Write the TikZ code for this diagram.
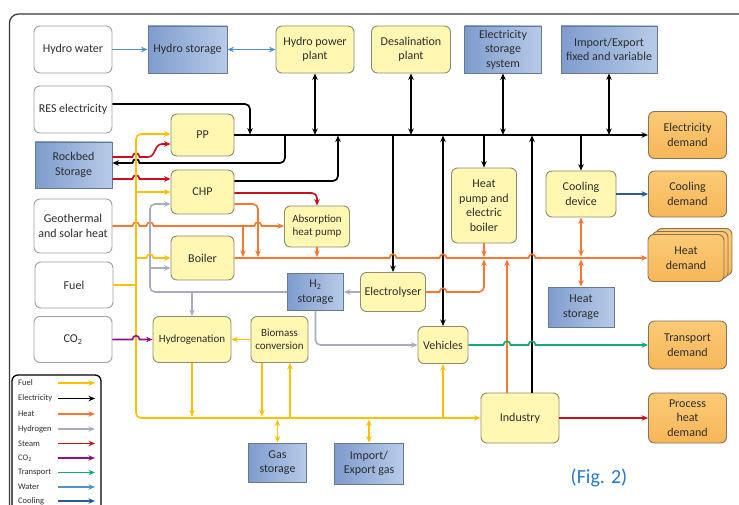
\documentclass[tikz,border=0pt]{standalone}
\usepackage{fontspec}
\setmainfont{Carlito}
\usetikzlibrary{arrows.meta,calc}
\definecolor{yfill}{RGB}{255,247,178}
\definecolor{ybord}{RGB}{140,140,112}
\definecolor{bl1}{RGB}{126,156,205}
\definecolor{bl2}{RGB}{184,203,233}
\definecolor{bbord}{RGB}{105,120,145}
\definecolor{o1}{RGB}{252,202,118}
\definecolor{o2}{RGB}{247,182,88}
\definecolor{obord}{RGB}{135,115,85}
\definecolor{txtc}{RGB}{45,45,45}
\definecolor{fuelc}{RGB}{255,192,0}
\definecolor{heatc}{RGB}{245,120,50}
\definecolor{h2c}{RGB}{168,172,195}
\definecolor{steamc}{RGB}{200,16,30}
\definecolor{co2c}{RGB}{140,20,130}
\definecolor{transc}{RGB}{20,170,120}
\definecolor{waterc}{RGB}{80,145,210}
\definecolor{coolc}{RGB}{40,90,150}
\definecolor{figblue}{RGB}{40,120,200}
\definecolor{framec}{RGB}{60,60,60}
\newcommand\hopR[2]{-- ({#1-3.5},#2) .. controls ({#1-3.5},{#2-5}) and ({#1+3.5},{#2-5}) .. ({#1+3.5},#2)}
\newcommand\hopL[2]{-- ({#1+3.5},#2) .. controls ({#1+3.5},{#2-5}) and ({#1-3.5},{#2-5}) .. ({#1-3.5},#2)}
\tikzset{
 boxbase/.style={draw=ybord, line width=0.9pt, align=center, inner sep=1pt, text=txtc, font=\fontsize{12}{14.5}\selectfont},
 wbox/.style={boxbase, rounded corners=6pt, fill=white, draw=gray!75},
 ybox/.style={boxbase, rounded corners=6pt, fill=yfill},
 bbox/.style={boxbase, draw=bbord, left color=bl1, right color=bl2},
 obox/.style={boxbase, rounded corners=6pt, top color=o1, bottom color=o2, draw=obord},
 smallf/.style={font=\fontsize{11}{13}\selectfont},
 sz/.style 2 args={minimum width=#1pt, minimum height=#2pt},
 lnbase/.style={line width=1.6pt},
 elec/.style={lnbase, draw=black, line width=1.7pt},
 heatl/.style={lnbase, draw=heatc},
 hydl/.style={lnbase, draw=h2c},
 fuell/.style={lnbase, draw=fuelc},
 steaml/.style={lnbase, draw=steamc},
 co2l/.style={lnbase, draw=co2c},
 transl/.style={lnbase, draw=transc},
 waterl/.style={lnbase, draw=waterc},
 cooll/.style={lnbase, draw=coolc},
 legtxt/.style={anchor=west, inner sep=0pt, text=txtc, font=\fontsize{8.5}{10}\selectfont},
}
\begin{document}
\begin{tikzpicture}[x=1pt,y=-1pt,>={Stealth[length=6.5pt,width=5.5pt]}]
\path[use as bounding box, clip] (0,0) rectangle (739,505);
\fill[white] (0,0) rectangle (739,505);
% frame
\draw[framec, line width=1.3pt, rounded corners=9pt] (9.5,14) rectangle (800,560);

% nodes
\node[wbox, sz={78}{47}] (hw) at (73,49.5) {Hydro water};
\node[bbox, sz={79}{47}] (hs) at (187.5,49.5) {Hydro storage};
\node[ybox, sz={78}{47}] (hpp) at (315,49.5) {Hydro power\\plant};
\node[ybox, sz={79}{47}] (des) at (411,49.5) {Desalination\\plant};
\node[bbox, sz={77}{47}] (ess) at (503,49.5) {Electricity\\storage\\system};
\node[bbox, sz={96}{47}] (imp) at (609,49.5) {Import/Export\\fixed and variable};
\node[wbox, sz={78}{47}] (res) at (73,109.5) {RES electricity};
\node[ybox, sz={63}{42}] (pp) at (202.5,135) {PP};
\node[bbox, sz={77}{46}] (rb) at (73.5,165) {Rockbed\\Storage};
\node[ybox, sz={63}{44}] (chp) at (202.5,192) {CHP};
\node[wbox, sz={78}{54}] (geo) at (73,226) {Geothermal\\and solar heat};
\node[ybox, smallf, sz={65}{41}] (ahp) at (317,226.5) {Absorption\\heat pump};
\node[ybox, sz={63}{44}] (boi) at (202.5,258) {Boiler};
\node[wbox, sz={78}{46}] (fuel) at (74,285) {Fuel};
\node[bbox, sz={56}{37}] (h2) at (315.5,292) {H\textsubscript{2}\\storage};
\node[ybox, sz={65}{39}] (ely) at (393,292) {Electrolyser};
\node[wbox, sz={78}{46}] (co2) at (73,339.5) {CO\textsubscript{2}};
\node[ybox, smallf, sz={78}{46}] (hyd) at (192,339.5) {Hydrogenation};
\node[ybox, smallf, sz={57}{46}] (bio) at (279.5,339.5) {Biomass\\conversion};
\node[ybox, sz={50}{37}] (veh) at (443,345) {Vehicles};
\node[ybox, sz={65}{75}] (hpb) at (484,205.5) {Heat\\pump and\\electric\\boiler};
\node[ybox, sz={70}{46}] (cd) at (581,194) {Cooling\\device};
\node[bbox, sz={66}{40}] (hst) at (581,307) {Heat\\storage};
\node[obox, sz={78}{47}] (ed) at (687.5,135) {Electricity\\demand};
\node[obox, sz={78}{46}] (cdm) at (687.5,194) {Cooling\\demand};
\node[obox, sz={76}{47}] (hd3) at (694,252) {};
\node[obox, sz={76}{47}] (hd2) at (690,255) {};
\node[obox, sz={76}{47}] (hd) at (686,258) {Heat\\demand};
\node[obox, sz={78}{48}] (td) at (687.5,345) {Transport\\demand};
\node[obox, sz={78}{50}] (phd) at (687.5,418) {Process\\heat\\demand};
\node[ybox, sz={78}{50}] (ind) at (520,418) {Industry};
\node[bbox, sz={58}{39}] (gs) at (277.5,462.5) {Gas\\storage};
\node[bbox, sz={69}{41}] (ieg) at (369,463.5) {Import/\\Export gas};

% water
\draw[waterl,->] (hw.east) -- (hs.west);
\draw[waterl,<->] (hs.east) -- (hpp.west);

% electricity
\draw[elec,->] (pp.east) -- (ed.west);
\draw[elec,<->] (hpp.south) -- (hpp.south|-0,135);
\draw[elec,<->] (des.south) -- (des.south|-0,135);
\draw[elec,<->] (ess.south) -- (ess.south|-0,135);
\draw[elec,<->] (imp.south) -- (imp.south|-0,135);
\draw[elec,->,rounded corners=5pt] (res.east|-0,104) -- (250,104) -- (250,134.5);
\draw[elec,->] (285,135) [rounded corners=5pt] -- (285,163) -- (150,163) [sharp corners] \hopL{136}{163} -- (rb.east|-0,163);
\draw[elec,->,rounded corners=5pt] (chp.east|-0,181) -- (338,181) -- (338,135.5);
\draw[elec,->] (393,135) -- (ely.north);
\draw[elec,<->] (veh.north) -- (443,135.5);
\draw[elec,->] (484,135) -- (hpb.north);
\draw[elec,->] (581,135) -- (cd.north);
\draw[elec,->] (ind.north-|532,0) -- (532,135.5);

% heat
\draw[heatl,->] (boi.east) \hopR{393}{258} \hopR{443}{258} \hopR{532}{258} -- (hd.west);
\draw[heatl,->] (geo.east|-0,226) \hopR{136}{226} \hopR{150}{226} \hopR{258}{226} -- (ahp.west|-0,226);
\draw[heatl,->] (243,226) -- (243,257);
\draw[heatl,->,rounded corners=5pt] (chp.east|-0,204) -- (258,204) -- (258,257);
\draw[heatl,->] (ahp.south) -- (317,257);
\draw[heatl,->] (hpb.south) -- (484,257);
\draw[heatl,->] (ely.east|-0,292) \hopR{443}{292} [rounded corners=5pt] -- (484,292) -- (484,259.5);
\draw[heatl,->] (ind.north-|507,0) -- (507,259.5);
\draw[heatl,<->] (cd.south) -- (581,256.5);
\draw[heatl,<->] (581,259.5) -- (hst.north);

% steam
\draw[steaml,->,rounded corners=5pt] (chp.east|-0,193) -- (317,193) -- (ahp.north);
\draw[steaml,->] (rb.east|-0,157) \hopR{136}{157} -- (148,157) .. controls (156,157) and (154,144) .. (162,144) -- (pp.west|-0,144);
\draw[steaml,->] (rb.east|-0,179) \hopR{136}{179} -- (chp.west|-0,179);
\draw[steaml,->] (ind.east) -- (phd.west);

% hydrogen
\draw[hydl,->] (ely.west) -- (h2.east);
\draw[hydl,->,rounded corners=5pt] (h2.west) -- (150,292) -- (150,204) -- (chp.west|-0,204);
\draw[hydl,->] (150,268) -- (boi.west|-0,268);
\draw[hydl,->] (192,292) -- (hyd.north);
\draw[hydl,->,rounded corners=5pt] (h2.south) -- (h2.south|-0,345) -- (veh.west);

% fuel
\draw[fuell,<->,rounded corners=5pt] (pp.west|-0,134) -- (136,134) -- (136,418) -- (ind.west);
\draw[fuell,->] (136,192) -- (chp.west|-0,192);
\draw[fuell,->] (136,258) \hopR{150}{258} -- (boi.west);
\draw[fuell] (fuel.east) -- (136,285);
\draw[fuell,->] (hyd.south) -- (192,416.5);
\draw[fuell,->] (bio.south-|262,0) -- (262,416.5);
\draw[fuell,->] (290,418) -- (bio.south-|290,0);
\draw[fuell,<->] (277.5,419.5) -- (gs.north);
\draw[fuell,<->] (369,419.5) -- (ieg.north);
\draw[fuell,->] (443,418) -- (veh.south);
\draw[fuell,->] (bio.west) -- (hyd.east);

% CO2, transport, cooling
\draw[co2l,->] (co2.east) \hopR{136}{339.5} -- (hyd.west);
\draw[transl,->] (veh.east) \hopR{507}{345} \hopR{532}{345} -- (td.west);
\draw[cooll,->] (cd.east) -- (cdm.west);

% legend
\draw[black, line width=1.3pt, rounded corners=6pt] (12,375) rectangle (101,530);
\node[legtxt] (l1) at (18,383) {Fuel};
\node[legtxt] (l2) at (18,398.5) {Electricity};
\node[legtxt] (l3) at (18,414) {Heat};
\node[legtxt] (l4) at (18,429) {Hydrogen};
\node[legtxt] (l5) at (18,443.5) {Steam};
\node[legtxt] (l6) at (18,458) {CO\textsubscript{2}};
\node[legtxt] (l7) at (18,472.5) {Transport};
\node[legtxt] (l8) at (18,487) {Water};
\node[legtxt] (l9) at (18,501) {Cooling};
\draw[fuell,line width=1.3pt,->] (58,383) -- (95,383);
\draw[elec,line width=1.3pt,->] (58,398.5) -- (95,398.5);
\draw[heatl,line width=1.3pt,->] (58,414) -- (95,414);
\draw[hydl,line width=1.3pt,->] (58,429) -- (95,429);
\draw[steaml,line width=1.3pt,->] (58,443.5) -- (95,443.5);
\draw[co2l,line width=1.3pt,->] (58,458) -- (95,458);
\draw[transl,line width=1.3pt,->] (58,472.5) -- (95,472.5);
\draw[waterl,line width=1.3pt,->] (58,487) -- (95,487);
\draw[cooll,line width=1.3pt,->] (58,501) -- (95,501);

\node[text=figblue, font=\fontsize{20}{22}\selectfont, inner sep=0pt] (fig) at (599,478) {(Fig. 2)};
\end{tikzpicture}
\end{document}
